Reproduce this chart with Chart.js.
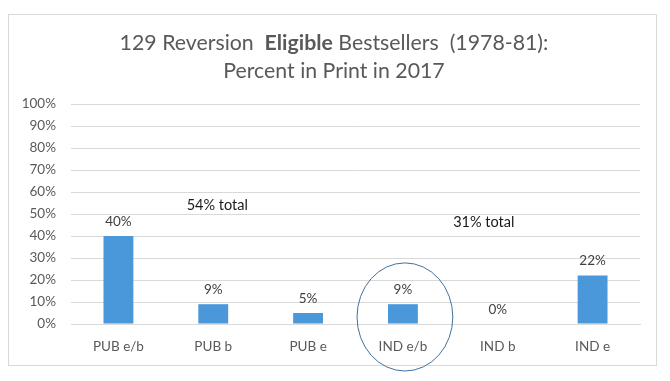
<!DOCTYPE html>
<html><head><meta charset="utf-8">
<script src="https://cdn.jsdelivr.net/npm/chart.js@4/dist/chart.umd.min.js"></script>
<style>
html,body{margin:0;padding:0;background:#fff;}
#wrap{position:absolute;left:0;top:0;width:670px;height:381px;}
#frame{position:absolute;left:8px;top:14px;width:649px;height:352px;border:1px solid #d9d9d9;box-sizing:border-box;}
canvas{position:absolute;left:0;top:0;}
</style></head>
<body><div id="wrap"><div id="frame"></div><canvas id="c" width="670" height="381"></canvas></div>
<script>
const categories = ["PUB e/b","PUB b","PUB e","IND e/b","IND b","IND e"];
const percentInPrint = [40, 9, 5, 9, 0, 22];
const yTicks = [0,10,20,30,40,50,60,70,80,90,100];
const titleParts = [["129 Reversion  ", false],["Eligible", true],[" Bestsellers  (1978-81):", false]];
const titleLine2 = "Percent in Print in 2017";
const totalNotes = [{text:"54% total", x:0.72, y:54}, {text:"31% total", x:3.53, y:46.2}];
const circledCategory = "IND e/b";

const FONT = "Lato, 'Open Sans', sans-serif";

const overlay = {
  id:'overlay',
  afterDatasetsDraw(chart){
    const ctx = chart.ctx, xs = chart.scales.x, ys = chart.scales.y;
    const meta = chart.getDatasetMeta(0);
    ctx.save();
    // data labels
    ctx.font = "13.5px " + FONT;
    ctx.fillStyle = "#404040";
    ctx.textAlign = "center";
    ctx.textBaseline = "bottom";
    meta.data.forEach((bar,i)=>{
      ctx.fillText(percentInPrint[i] + "%", bar.x, bar.y - 8);
    });
    // total notes
    ctx.font = "14.5px " + FONT;
    ctx.fillStyle = "#1a1a1a";
    ctx.textAlign = "left";
    ctx.textBaseline = "middle";
    const step = xs.getPixelForValue(1) - xs.getPixelForValue(0);
    totalNotes.forEach(n=>{
      const px = xs.getPixelForValue(0) + n.x*step;
      ctx.fillText(n.text, px, ys.getPixelForValue(n.y));
    });
    // ellipse
    const ci = categories.indexOf(circledCategory);
    const cx = xs.getPixelForValue(ci) + 2;
    const cy = ys.getPixelForValue(3.2);
    ctx.beginPath();
    ctx.ellipse(cx, cy, step*0.505, step*0.57, 0, 0, Math.PI*2);
    ctx.strokeStyle = "#41719c";
    ctx.lineWidth = 1;
    ctx.stroke();
    // title
    ctx.fillStyle = "#595959";
    ctx.textBaseline = "middle";
    const parts = titleParts.map(p=>{
      ctx.font = (p[1] ? "bold " : "") + "21.3px " + FONT;
      return {t:p[0], b:p[1], w:ctx.measureText(p[0]).width};
    });
    const total = parts.reduce((a,p)=>a+p.w,0);
    const mid = 334;
    let x = mid - total/2;
    ctx.textAlign = "left";
    parts.forEach(p=>{
      ctx.font = (p.b ? "bold " : "") + "21.3px " + FONT;
      ctx.fillText(p.t, x, 43);
      x += p.w;
    });
    ctx.font = "21.3px " + FONT;
    ctx.textAlign = "center";
    ctx.fillText(titleLine2, mid, 71);
    ctx.restore();
  }
};

new Chart(document.getElementById('c'), {
  type:'bar',
  data:{labels:categories, datasets:[{data:percentInPrint, backgroundColor:"#4a97da", barPercentage:0.5, categoryPercentage:0.63}]},
  options:{
    responsive:false, animation:false,
    layout:{padding:{top:104, right:30, bottom:20, left:0}},
    plugins:{legend:{display:false}, title:{display:false}, tooltip:{enabled:false}},
    scales:{
      x:{
        grid:{display:false, drawTicks:false},
        border:{display:true, color:"#d9d9d9"},
        ticks:{color:"#595959", font:{family:FONT, size:13.5}, padding:15, maxRotation:0},
        afterFit(s){ s.height = 37; }
      },
      y:{
        min:0, max:100,
        afterBuildTicks(s){ s.ticks = yTicks.map(v=>({value:v})); },
        grid:{color:"#d9d9d9", drawTicks:false},
        border:{display:false},
        ticks:{color:"#595959", font:{family:FONT, size:13.5}, padding:15, callback:v=>v+"%"},
        afterFit(s){ s.width = 71; }
      }
    }
  },
  plugins:[overlay]
});
</script></body></html>
